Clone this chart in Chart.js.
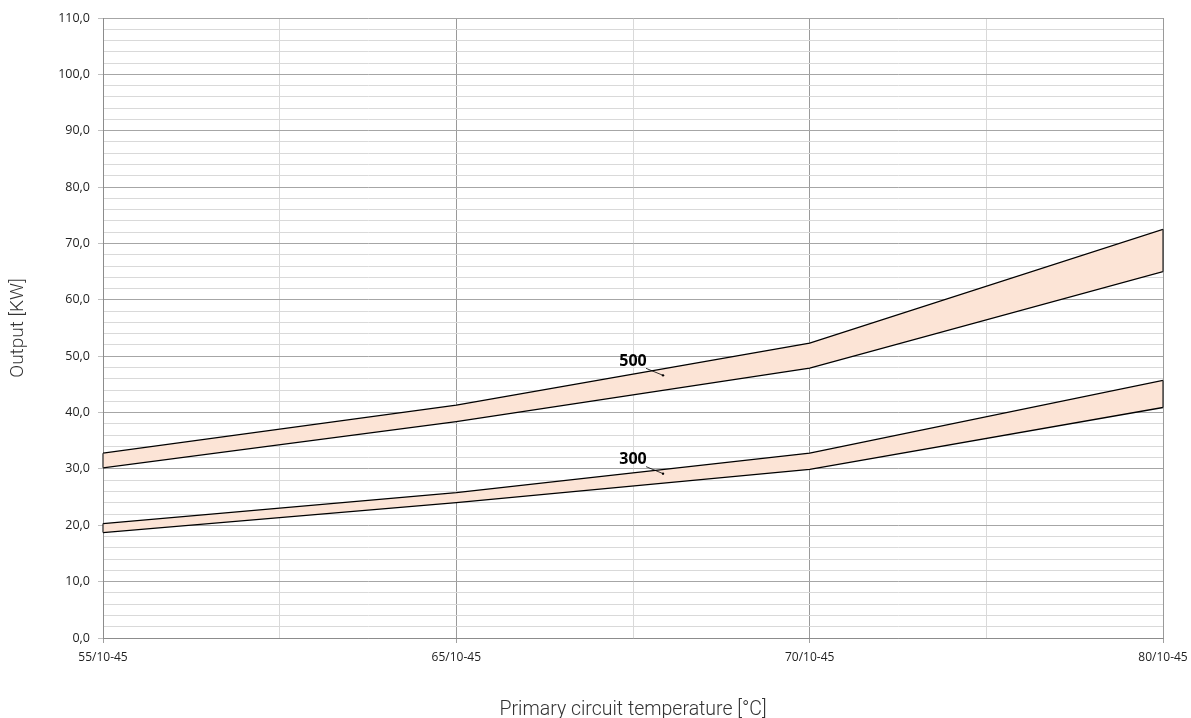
<!DOCTYPE html>
<html><head><meta charset="utf-8">
<script src="https://cdn.jsdelivr.net/npm/chart.js@4/dist/chart.umd.min.js"></script>
<style>html,body{margin:0;padding:0;background:#fff;}#wrap{width:1191px;height:718px;}</style>
</head><body><div id="wrap"><canvas id="c" width="1191" height="718"></canvas></div>
<script>
const categories = ['55/10-45','65/10-45','70/10-45','80/10-45'];
const upper500 = [32.8, 41.3, 52.3, 72.5];
const lower500 = [30.2, 38.4, 47.9, 65.0];
const upper300 = [20.3, 25.8, 32.8, 45.7];
const lower300 = [18.7, 24.0, 29.9, 40.9];
const yTicksMajor = [0,10,20,30,40,50,60,70,80,90,100,110];
const bandNames = ['500','300'];

const pts = arr => arr.map((v,i)=>({x:i,y:v}));
const FILL = '#fce4d6';
const ds = (data, fill) => ({data: pts(data), borderColor:'#000', borderWidth:1.3, pointRadius:0, tension:0, fill: fill, backgroundColor: FILL});

const bandPlugin = {
  id:'bands',
  afterDatasetsDraw(chart){
    const ctx = chart.ctx, xs = chart.scales.x, ys = chart.scales.y;
    const bands = [[upper500, lower500, bandNames[0]], [upper300, lower300, bandNames[1]]];
    ctx.save();
    bands.forEach(([u,l,name])=>{
      ctx.strokeStyle = '#333'; ctx.lineWidth = 1.3;
      [0, categories.length-1].forEach(i=>{
        const px = xs.getPixelForValue(i);
        ctx.beginPath(); ctx.moveTo(px, ys.getPixelForValue(u[i])); ctx.lineTo(px, ys.getPixelForValue(l[i])); ctx.stroke();
      });
      const xv = 1.585, i0 = 1, f = xv - i0;
      const uv = u[i0] + f*(u[i0+1]-u[i0]);
      const lv = l[i0] + f*(l[i0+1]-l[i0]);
      const ex = xs.getPixelForValue(xv), ey = ys.getPixelForValue(uv - 0.3*(uv-lv));
      ctx.beginPath(); ctx.strokeStyle='#000'; ctx.lineWidth=0.8;
      ctx.moveTo(ex-17, ey-7); ctx.lineTo(ex, ey); ctx.stroke();
      ctx.fillStyle='#000'; ctx.beginPath(); ctx.arc(ex, ey, 1.2, 0, Math.PI*2); ctx.fill();
      ctx.font = 'bold 16px "Open Sans", sans-serif';
      ctx.textAlign='center'; ctx.textBaseline='middle';
      ctx.fillText(name, ex-30, ey-14);
    });
    ctx.restore();
  }
};

new Chart(document.getElementById('c'), {
  type:'line',
  data:{ datasets:[ ds(upper500,'+1'), ds(lower500,false), ds(upper300,'+1'), ds(lower300,false) ] },
  plugins:[bandPlugin],
  options:{
    responsive:false, animation:false,
    layout:{padding:{top:18,right:28,left:0,bottom:0}},
    plugins:{legend:{display:false}, tooltip:{enabled:false}, filler:{drawTime:'beforeDatasetsDraw'}},
    scales:{
      x:{ type:'linear', min:0, max:categories.length-1,
        afterBuildTicks(s){ const t=[]; for(let v=0; v<=categories.length-1; v+=0.5) t.push({value:v}); s.ticks=t; },
        afterFit(s){ s.height = 80; s.paddingLeft = 0; s.paddingRight = 0; },
        ticks:{ autoSkip:false, maxRotation:0, padding:7, color:'#222', font:{family:'"Open Sans", sans-serif', size:12},
          callback:(v)=> Number.isInteger(v) ? categories[v] : '' },
        grid:{ color:(c)=> Number.isInteger(c.tick.value) ? '#9a9a9a' : '#d9d9d9', lineWidth:1, tickLength:5,
          tickColor:(c)=> Number.isInteger(c.tick.value) ? '#a0a0a0' : 'rgba(0,0,0,0)' },
        border:{color:'#8c8c8c'},
        title:{display:true, text:'Primary circuit temperature [°C]', color:'#333', font:{family:'Roboto', size:19.5, weight:300}, padding:{top:20,bottom:-4}}
      },
      y:{ min:0, max:110,
        afterBuildTicks(s){ const t=[]; for(let v=0; v<=110; v+=2) t.push({value:v}); s.ticks=t; },
        afterFit(s){ s.width = 103; },
        ticks:{ autoSkip:false, padding:8, color:'#222', font:{family:'"Open Sans", sans-serif', size:12.5},
          callback:(v)=> yTicksMajor.includes(v) ? v.toFixed(1).replace('.',',') : '' },
        grid:{ color:(c)=> yTicksMajor.includes(c.tick.value) ? '#a6a6a6' : '#d9d9d9', lineWidth:1, tickLength:5,
          tickColor:(c)=> yTicksMajor.includes(c.tick.value) ? '#bfbfbf' : 'rgba(0,0,0,0)' },
        border:{color:'#8c8c8c'},
        title:{display:true, text:'Output [KW]', color:'#333', font:{family:'Roboto', size:19, weight:300}, padding:{top:7,bottom:0}}
      }
    }
  }
});
</script></body></html>
